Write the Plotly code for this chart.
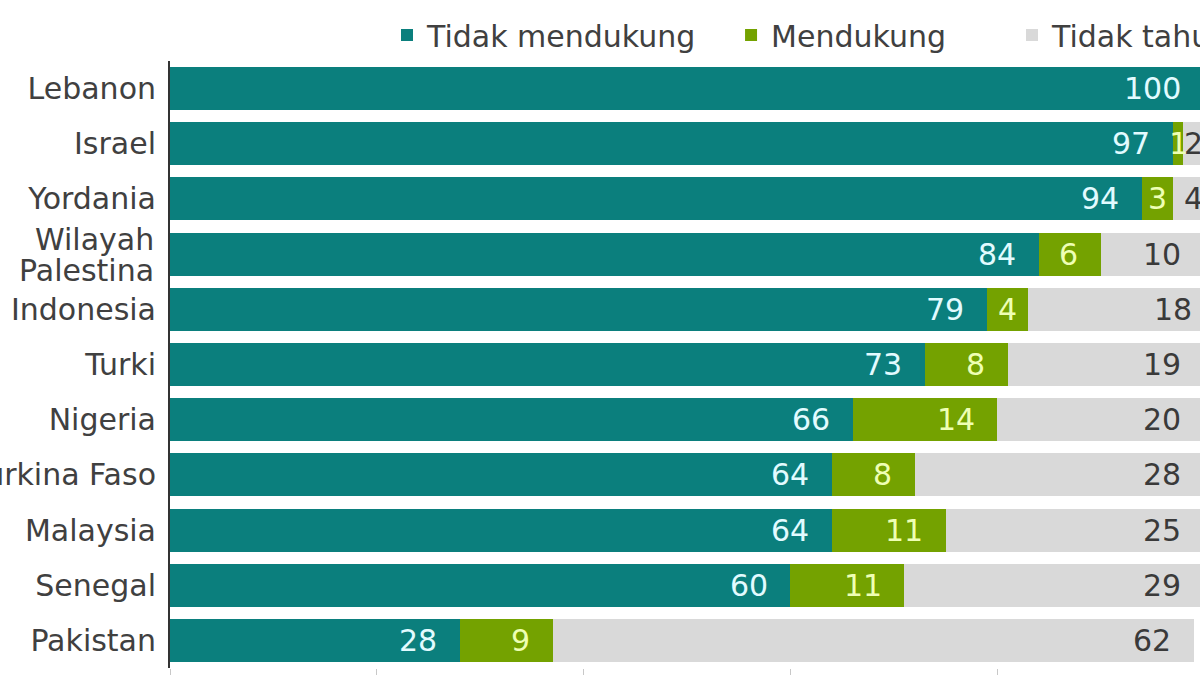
import plotly.graph_objects as go

countries = ["Lebanon", "Israel", "Yordania", "Wilayah Palestina", "Indonesia",
             "Turki", "Nigeria", "Burkina Faso", "Malaysia", "Senegal", "Pakistan"]
tidak_mendukung = [100, 97, 94, 84, 79, 73, 66, 64, 64, 60, 28]
mendukung = [0, 1, 3, 6, 4, 8, 14, 8, 11, 11, 9]
tidak_tahu = [0, 2, 4, 10, 18, 19, 20, 28, 25, 29, 62]

series_names = ["Tidak mendukung", "Mendukung", "Tidak tahu"]
series_values = [tidak_mendukung, mendukung, tidak_tahu]
bar_colors = ["#0b7f7d", "#74a200", "#d9d9d9"]
label_colors = ["#e2fbff", "#eeffb4", "#3a3a3a"]
legend_ids = ["legend", "legend2", "legend3"]
legend_x = [0.2107, 0.5447, 0.8175]

FONT = "DejaVu Sans"
TXT = "#404040"
LONG_LABEL = "Wilayah Palestina"

fig = go.Figure()
for name, vals, col, lid in zip(series_names, series_values, bar_colors, legend_ids):
    fig.add_trace(go.Bar(
        y=countries, x=vals, name=name, orientation="h",
        marker=dict(color=col, line=dict(width=0)),
        hoverinfo="skip", legend=lid,
    ))

# value labels
annotations = []
PAD = 2.0
for i, c in enumerate(countries):
    start = 0
    for vals, lc in zip(series_values, label_colors):
        v = vals[i]
        end = start + v
        if v > 0:
            if v >= 5:
                xpos, anchor = end - PAD, "right"
            else:
                xpos, anchor = (start + end) / 2, "center"
            annotations.append(dict(
                x=xpos, y=c, xref="x", yref="y", text=str(v), showarrow=False,
                xanchor=anchor, yanchor="middle",
                font=dict(family=FONT, size=30, color=lc),
            ))
        start = end

# two-line category label with tight line spacing
for word, shift in zip(LONG_LABEL.split(" "), [15, -16]):
    annotations.append(dict(
        x=0, y=LONG_LABEL, xref="paper", yref="y", text=word, showarrow=False,
        xanchor="right", yanchor="middle", xshift=-14, yshift=shift,
        font=dict(family=FONT, size=30, color=TXT),
    ))

legend_common = dict(
    orientation="h", y=1.0, yanchor="bottom", xanchor="left",
    font=dict(family=FONT, size=30, color=TXT), bgcolor="rgba(0,0,0,0)",
)
fig.update_layout(
    width=1200, height=675,
    barmode="stack", bargap=0.22,
    plot_bgcolor="white", paper_bgcolor="white",
    margin=dict(l=170, r=0, t=61, b=7, autoexpand=False),
    font=dict(family=FONT, size=30, color=TXT),
    legend=dict(x=legend_x[0], **legend_common),
    legend2=dict(x=legend_x[1], **legend_common),
    legend3=dict(x=legend_x[2], **legend_common),
    annotations=annotations,
    showlegend=True,
)
fig.update_xaxes(
    range=[0, 99.6], showgrid=False, zeroline=False, showline=False,
    showticklabels=False, ticks="outside", ticklen=8, tickwidth=1,
    tickcolor="#c8c8c8", dtick=20, tick0=0, automargin=False, fixedrange=True,
)
fig.update_yaxes(
    autorange="reversed", showgrid=False, zeroline=False,
    showline=True, linecolor="#333333", linewidth=2,
    tickvals=countries,
    ticktext=["" if c == LONG_LABEL else c for c in countries],
    ticks="", ticklabelstandoff=6, automargin=False,
    tickfont=dict(family=FONT, size=30, color=TXT),
    fixedrange=True,
)

fig.write_html(
    "out.html",
    config={"displayModeBar": False},
    post_script="document.body.style.margin='0';document.body.style.overflow='hidden';",
)
